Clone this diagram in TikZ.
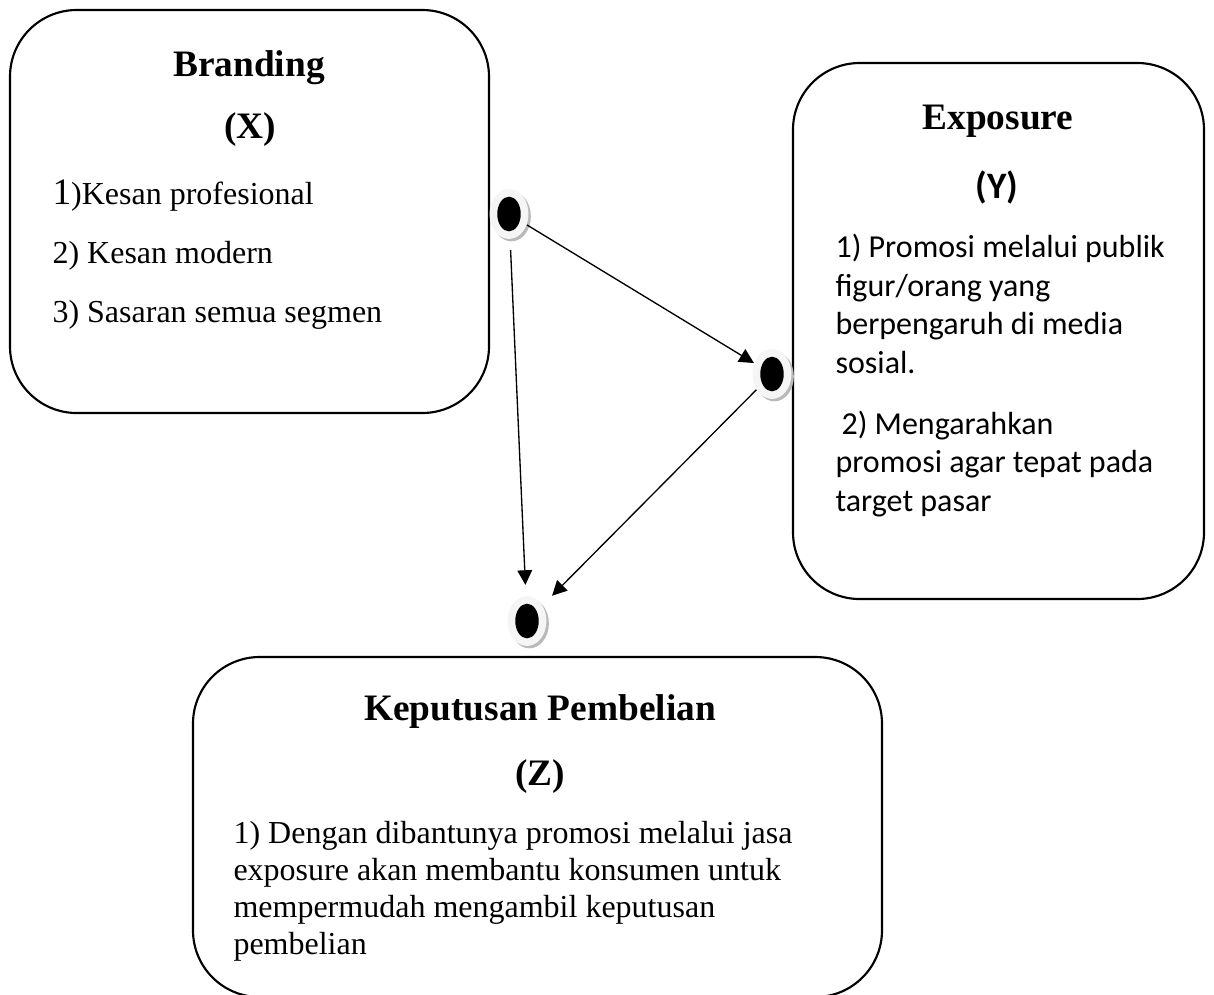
\documentclass[tikz,border=0pt]{standalone}
\usepackage{fontspec}
\setmainfont{Liberation Serif}
\newfontfamily\calibri{Carlito}
\usetikzlibrary{arrows.meta}
\usetikzlibrary{shapes.geometric}
\usetikzlibrary{shadows}

\tikzset{
  box/.style={draw, line width=0.8pt, rounded corners=25pt},
  ttl/.style={font=\fontsize{14}{16}\selectfont\bfseries, anchor=base, inner sep=0pt},
  item/.style={font=\fontsize{12}{14}\selectfont, anchor=base west, inner sep=0pt},
  itemc/.style={item, font=\calibri\fontsize{12}{14}\selectfont},
  dot/.style={ellipse, minimum width=14.6pt, minimum height=18.7pt, inner sep=0pt,
    fill=gray!8, drop shadow={shadow xshift=0.9pt, shadow yshift=-0.9pt, fill=gray!55, opacity=1}},
  arr/.style={-{Triangle[length=5.5pt,width=5.5pt]}, line width=0.5pt}
}

\begin{document}
\begin{tikzpicture}[x=0.375pt, y=-0.375pt]
\useasboundingbox (0,0) rectangle (1214,994);

% Branding (X)
\draw[box] (10,10) rectangle (489,413);
\node[ttl] (brand) at (249,76) {Branding};
\node[ttl] (brandx) at (250,138) {(X)};
\node[item] (b1) at (52,204) {{\fontsize{14}{14}\selectfont 1})Kesan profesional};
\node[item] (b2) at (52,263) {2) Kesan modern};
\node[item] (b3) at (52,322) {3) Sasaran semua segmen};

% Exposure (Y)
\draw[box] (793,63) rectangle (1204,599);
\node[ttl] (expo) at (998,129) {Exposure};
\node[ttl, font=\calibri\fontsize{14}{16}\selectfont\bfseries] (expoy) at (997,198) {(Y)};
\node[itemc] (e1) at (835,257) {1) Promosi melalui publik};
\node[itemc] (e2) at (835,296) {figur/orang yang};
\node[itemc] (e3) at (835,334) {berpengaruh di media};
\node[itemc] (e4) at (835,373) {sosial.};
\node[itemc] (e5) at (841,434) {2) Mengarahkan};
\node[itemc] (e6) at (835,472) {promosi agar tepat pada};
\node[itemc] (e7) at (835,511) {target pasar};

% Keputusan Pembelian (Z)
\draw[box] (193,657) rectangle (882,997);
\node[ttl] (kep) at (540,720) {Keputusan Pembelian};
\node[ttl] (kepz) at (540,785) {(Z)};
\node[item] (k1) at (233,843) {1) Dengan dibantunya promosi melalui jasa};
\node[item] (k2) at (233,880) {exposure akan membantu konsumen untuk};
\node[item] (k3) at (233,917) {mempermudah mengambil keputusan};
\node[item] (k4) at (233,954) {pembelian};

% titik dan panah
\node[dot] (dot1) at (509,214) {};
\node[dot] (dot2) at (772,374) {};
\node[dot] (dot3) at (527,621) {};
\foreach \d in {dot1,dot2,dot3}
  \fill (\d.center) ellipse [x radius=4.4pt, y radius=6.5pt];

\draw[arr] (dot1) -- (dot2);
\draw[arr, shorten <=4pt, shorten >=4pt] (dot1) -- (dot3);
\draw[arr, shorten >=5pt] (dot2) -- (dot3);
\end{tikzpicture}
\end{document}
